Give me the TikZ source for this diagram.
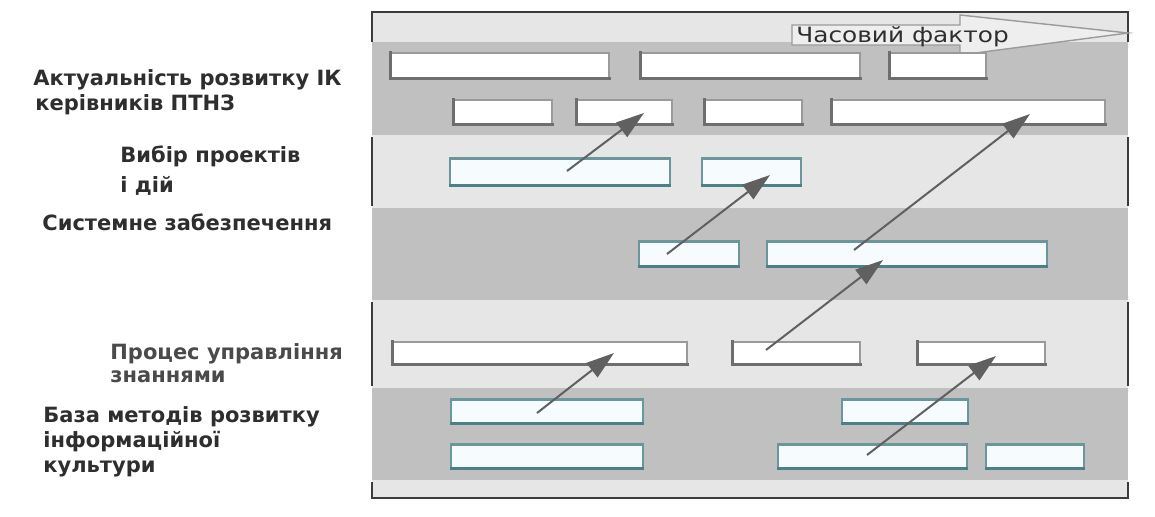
\documentclass[tikz,border=0pt]{standalone}
\usepackage{fontspec}
\usepackage{graphicx}
\setmainfont{DejaVu Sans}
\usetikzlibrary{arrows.meta,fit}
\definecolor{bandlight}{HTML}{E6E6E6}
\definecolor{banddark}{HTML}{C0C0C0}
\definecolor{boxedge}{HTML}{9A9A9A}
\definecolor{boxshadow}{HTML}{6E6E6E}
\definecolor{tealedge}{HTML}{6A969C}
\definecolor{tealshadow}{HTML}{4F7F86}
\definecolor{tealfill}{HTML}{F6FCFD}
\definecolor{arrowgray}{HTML}{606060}
\definecolor{labelgray}{HTML}{2E2E2E}
\definecolor{labellight}{HTML}{4A4A4A}
\definecolor{framegray}{HTML}{3C3C3C}
\definecolor{timefill}{HTML}{EEEEEE}
\definecolor{timeedge}{HTML}{9A9A9A}
\begin{document}
\begin{tikzpicture}[x=0.5pt,y=-0.5pt,
 graybox/.style={draw=boxedge, fill=white, line width=0.7pt, inner sep=0pt},
 tealbox/.style={draw=tealedge, fill=tealfill, line width=0.8pt, inner sep=0pt},
 conn/.style={draw=arrowgray, line width=1pt, -{Triangle[length=14pt,width=9pt]}},
 lbl/.style={anchor=base west, inner sep=0pt, font=\fontsize{10.5}{12}\selectfont\bfseries, text=labelgray},
 frameline/.style={draw=framegray, line width=1.2pt}
]
\useasboundingbox[fill=white] (0,0) rectangle (1155,516);
% bands
\fill[bandlight] (372,12) rectangle (1128,42);
\fill[banddark] (372,42) rectangle (1128,135);
\fill[bandlight] (372,135) rectangle (1128,208);
\fill[banddark] (372,208) rectangle (1128,300);
\fill[bandlight] (372,300) rectangle (1128,388);
\fill[banddark] (372,388) rectangle (1128,480);
\fill[bandlight] (372,480) rectangle (1128,498);
% frame
\draw[frameline] (372,42) -- (372,12) -- (1128,12) -- (1128,42);
\draw[frameline] (372,137) -- (372,206);
\draw[frameline] (1128,137) -- (1128,206);
\draw[frameline] (372,302) -- (372,386);
\draw[frameline] (1128,302) -- (1128,386);
\draw[frameline] (372,482) -- (372,498) -- (1128,498) -- (1128,482);
% time arrow
\draw[draw=timeedge, fill=timefill, line width=0.7pt]
  (792,25) -- (960,25) -- (960,15) -- (1128,33) -- (960,55) -- (960,45) -- (792,45) -- cycle;
\node[anchor=base west, inner sep=0pt, font=\fontsize{10.5}{13}\selectfont, text=labelgray] (time) at (796,42) {\scalebox{1.18}[1]{Часовий фактор}};
% band 1 boxes
\node[graybox, fit={(391,53)(609,78)}] (r1a) {};
\node[graybox, fit={(641,53)(860,78)}] (r1b) {};
\node[graybox, fit={(890,53)(986,78)}] (r1c) {};
\node[graybox, fit={(454,100)(552,124)}] (r2a) {};
\node[graybox, fit={(577,100)(672,124)}] (r2b) {};
\node[graybox, fit={(705,100)(802,124)}] (r2c) {};
\node[graybox, fit={(832,100)(1105,124)}] (r2d) {};
% band 2 boxes
\node[tealbox, fit={(450,159)(670,185)}] (p1) {};
\node[tealbox, fit={(702,159)(801,185)}] (p2) {};
% band 3 boxes
\node[tealbox, fit={(639,242)(739,266)}] (s1) {};
\node[tealbox, fit={(767,242)(1047,266)}] (s2) {};
% band 4 boxes
\node[graybox, fit={(393,342)(687,364)}] (k1) {};
\node[graybox, fit={(733,342)(860,364)}] (k2) {};
\node[graybox, fit={(918,342)(1045,364)}] (k3) {};
% band 5 boxes
\node[tealbox, fit={(451,400)(643,423)}] (m1) {};
\node[tealbox, fit={(842,400)(968,423)}] (m2) {};
\node[tealbox, fit={(451,445)(643,468)}] (m3) {};
\node[tealbox, fit={(778,445)(967,468)}] (m4) {};
\node[tealbox, fit={(986,445)(1084,468)}] (m5) {};
% box shadows
\foreach \n in {r1a,r1b,r1c,r2a,r2b,r2c,r2d,k1,k2,k3}
  \draw[boxshadow, line width=1.5pt, line cap=rect] (\n.north west) -- (\n.south west) -- (\n.south east);
\foreach \n in {p1,p2,s1,s2,m1,m2,m3,m4,m5}{
  \draw[tealshadow, line width=1.6pt] (\n.south west) -- (\n.south east);
  \draw[tealedge, line width=1.2pt] (\n.north west) -- (\n.north east);
}
% labels
\node[lbl] (l1a) at (33,85) {Актуальність розвитку ІК};
\node[lbl] (l1b) at (35,110) {керівників ПТНЗ};
\node[lbl] (l2a) at (120,162) {Вибір проектів};
\node[lbl] (l2b) at (120,192) {і дій};
\node[lbl] (l3) at (42,230) {Системне забезпечення};
\node[lbl, text=labellight] (l4a) at (110,359) {Процес управління};
\node[lbl, text=labellight] (l4b) at (110,382) {знаннями};
\node[lbl] (l5a) at (43,422) {База методів розвитку};
\node[lbl] (l5b) at (43,447) {інформаційної};
\node[lbl] (l5c) at (43,472) {культури};
% connectors
\coordinate (a1s) at (567,171); \coordinate (a1e) at (644,113);
\coordinate (a2s) at (667,254); \coordinate (a2e) at (770,175);
\coordinate (a3s) at (854,250); \coordinate (a3e) at (1030,114);
\coordinate (a4s) at (766,350); \coordinate (a4e) at (883,260);
\coordinate (a5s) at (537,413); \coordinate (a5e) at (614,353);
\coordinate (a6s) at (867,455); \coordinate (a6e) at (996,356);
\foreach \i in {1,...,6}
  \draw[conn] (a\i s) -- (a\i e);
\end{tikzpicture}
\end{document}
